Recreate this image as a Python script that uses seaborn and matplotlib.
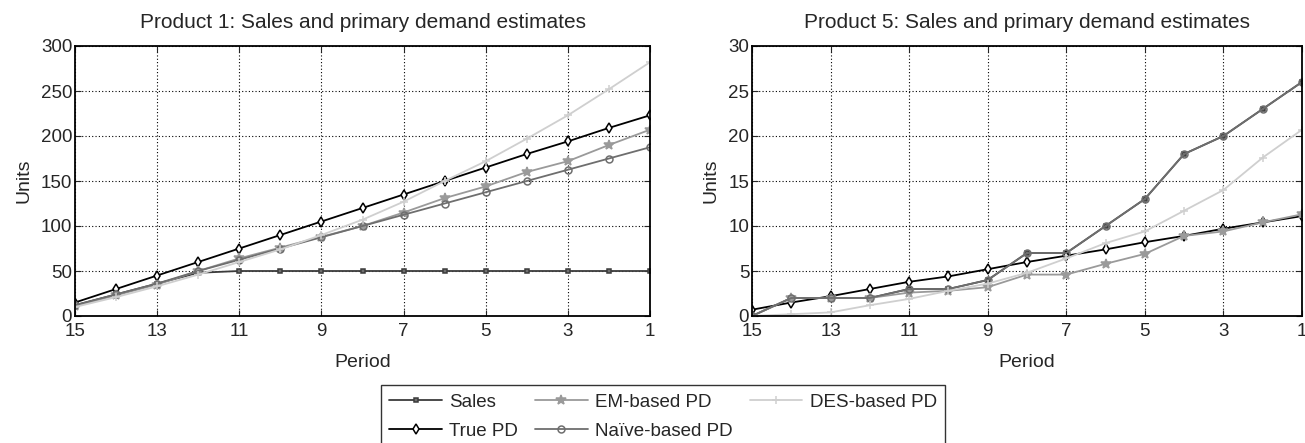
import numpy as np
import pandas as pd
import matplotlib
matplotlib.use('Agg')
import matplotlib.pyplot as plt
import seaborn as sns

periods = list(range(15, 0, -1))

# Product 1
p1_sales = [12, 24, 36, 48, 50, 50, 50, 50, 50, 50, 50, 50, 50, 50, 50]
p1_true = [15, 30, 45, 60, 75, 90, 105, 120, 135, 150, 165, 180, 194, 209, 223]
p1_em = [11, 23, 35, 50, 64, 76, 88, 100, 115, 131, 144, 160, 172, 190, 207]
p1_naive = [12, 24, 36, 50, 62.5, 75, 87.5, 100, 112.5, 125, 137.5, 150, 162.5, 175, 187.5]
p1_des = [10, 21, 33, 46, 60, 74, 90, 107, 127, 150, 172, 197, 223, 252, 282]

# Product 5
p5_sales = [0, 2, 2, 2, 3, 3, 4, 7, 7, 10, 13, 18, 20, 23, 26]
p5_true = [0.7, 1.5, 2.2, 3.0, 3.8, 4.4, 5.2, 6.0, 6.7, 7.4, 8.2, 8.9, 9.7, 10.4, 11.1]
p5_em = [0, 2, 2, 2, 2.6, 2.8, 3.2, 4.6, 4.6, 5.8, 6.9, 8.9, 9.4, 10.4, 11.3]
p5_naive = [0, 2, 2, 2, 3, 3, 4, 7, 7, 10, 13, 18, 20, 23, 26]
p5_des = [0, 0.2, 0.4, 1.2, 1.9, 2.8, 3.6, 4.8, 6.4, 8.1, 9.4, 11.7, 14.0, 17.6, 20.7]

series_names = ['Sales', 'True PD', 'EM-based PD', 'Naïve-based PD', 'DES-based PD']
styles = {
    'Sales': dict(color='#3c3c3c', marker='s', markersize=3.5, mfc='#707070', mec='#3c3c3c'),
    'True PD': dict(color='black', marker='d', markersize=5.5, mfc='white', mec='black'),
    'EM-based PD': dict(color='#9a9a9a', marker='*', markersize=7, mfc='#9a9a9a', mec='#9a9a9a'),
    'Naïve-based PD': dict(color='#6e6e6e', marker='o', markersize=5, mfc='none', mec='#6e6e6e'),
    'DES-based PD': dict(color='#cfcfcf', marker='+', markersize=6, mfc='#cfcfcf', mec='#cfcfcf'),
}

sns.set_style('ticks')
plt.rcParams['font.family'] = ['Liberation Sans', 'DejaVu Sans']
plt.rcParams['xtick.direction'] = 'in'
plt.rcParams['ytick.direction'] = 'in'

fig = plt.figure(figsize=(13.05, 4.43), dpi=100)
ax1 = fig.add_axes([75 / 1305, 1 - 316 / 443, 575 / 1305, 270 / 443])
ax2 = fig.add_axes([752 / 1305, 1 - 316 / 443, 550 / 1305, 270 / 443])

panels = [
    (ax1, 'Product 1: Sales and primary demand estimates',
     [p1_sales, p1_true, p1_em, p1_naive, p1_des], 300, 50),
    (ax2, 'Product 5: Sales and primary demand estimates',
     [p5_sales, p5_true, p5_em, p5_naive, p5_des], 30, 5),
]

for ax, title, vals, ymax, ystep in panels:
    df = pd.DataFrame({'Period': periods})
    for name, v in zip(series_names, vals):
        df[name] = v
    for name in series_names:
        st = styles[name]
        sns.lineplot(data=df, x='Period', y=name, ax=ax, color=st['color'], lw=1.3,
                     marker=st['marker'], markersize=st['markersize'],
                     markerfacecolor=st['mfc'], markeredgecolor=st['mec'], markeredgewidth=1.1,
                     label=name, legend=False)
    ax.set_xlim(15, 1)
    ax.set_ylim(0, ymax)
    ax.set_xticks([15, 13, 11, 9, 7, 5, 3, 1])
    ax.set_yticks(np.arange(0, ymax + 1, ystep))
    ax.grid(True, linestyle=(0, (1, 2)), color='black', lw=0.8)
    ax.set_title(title, fontsize=15, pad=13)
    ax.set_xlabel('Period', fontsize=14, labelpad=10)
    ax.set_ylabel('Units', fontsize=14, labelpad=6)
    ax.tick_params(labelsize=13.5, length=4, top=True, right=True, pad=2)
    ax.tick_params(axis='x', pad=5)
    for s in ax.spines.values():
        s.set_color('black')
        s.set_linewidth(1.3)

handles, labels = ax1.get_legend_handles_labels()
fig.legend(handles, labels, loc='upper left', bbox_to_anchor=(381 / 1305, 1 - 385 / 443),
           ncol=3, fontsize=13.5, frameon=True, fancybox=False, edgecolor='black',
           handlelength=2.8, columnspacing=0.9, borderpad=0.45, labelspacing=0.65,
           handletextpad=0.4, borderaxespad=0)

fig.savefig('out.png', dpi=100)
